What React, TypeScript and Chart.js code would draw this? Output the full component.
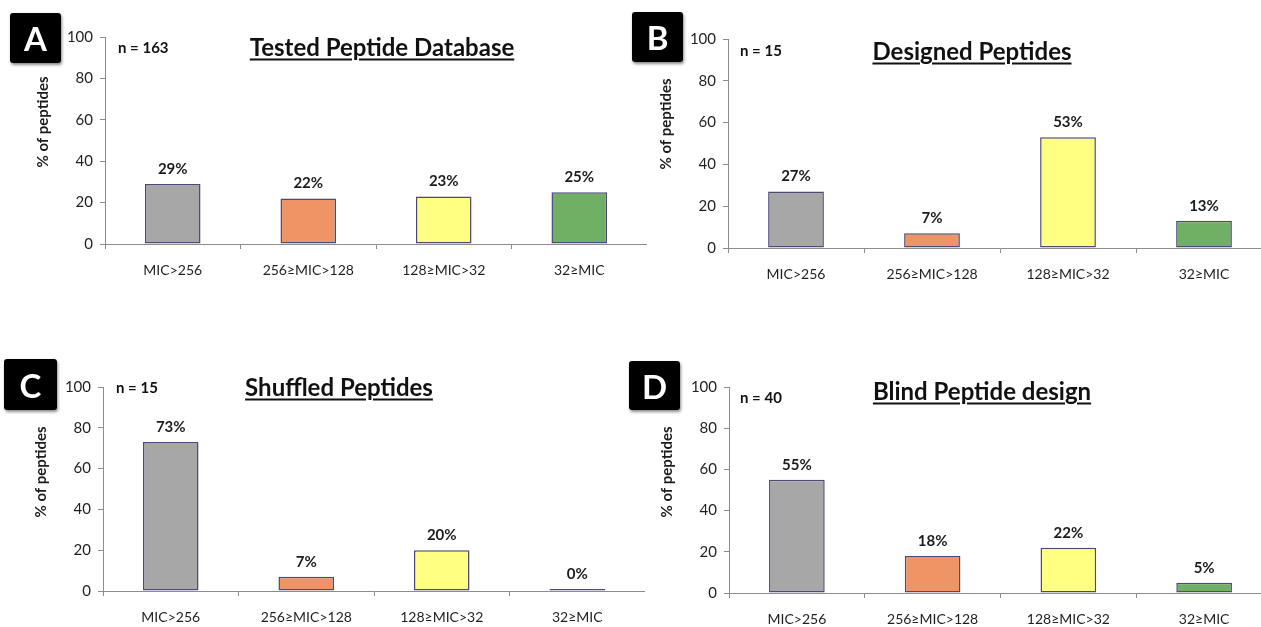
import React, { useEffect, useRef } from "react";
import { Chart, registerables } from "chart.js";

Chart.register(...registerables);
Chart.defaults.font.family = "Lato, 'Open Sans', sans-serif";

// MIC classes shared by every panel
const categories = ["MIC>256", "256≥MIC>128", "128≥MIC>32", "32≥MIC"];

// Share of peptides (%) in each MIC class
const testedDatabase = [29, 22, 23, 25];
const designedPeptides = [27, 7, 53, 13];
const shuffledPeptides = [73, 7, 20, 0];
const blindDesign = [55, 18, 22, 5];

const yMin = 0;
const yMax = 100;
const yStep = 20;

const barColors = ["#a7a7a7", "#ef9465", "#ffff82", "#70b064"];
const barBorder = "#4c4a78";

type PanelProps = {
  letter: string;
  count: string;
  title: string;
  values: number[];
  axisX: number;
  top: number;
  bottom: number;
  right: number;
  letterBox: { x: number; y: number; w: number; h: number };
  countPos: { x: number; y: number };
  titlePos: { x: number; y: number };
  titleSize: number;
};

const Y_AXIS_W = 75;
const X_AXIS_H = 46;
const PAD_TOP = 12;

function Panel(p: PanelProps) {
  const ref = useRef<HTMLCanvasElement | null>(null);
  const left = p.axisX - Y_AXIS_W;
  const canvasTop = p.top - PAD_TOP;
  const width = p.right - left;
  const height = p.bottom - p.top + PAD_TOP + X_AXIS_H;

  useEffect(() => {
    if (!ref.current) return;
    const values = p.values;
    const annotate = {
      id: "barAnnotations",
      afterDatasetsDraw(chart: any) {
        const ctx = chart.ctx;
        const meta = chart.getDatasetMeta(0);
        ctx.save();
        ctx.fillStyle = "#1c1c1c";
        ctx.textAlign = "center";
        ctx.textBaseline = "middle";
        ctx.font = "bold 15px Lato, sans-serif";
        meta.data.forEach((bar: any, i: number) => {
          ctx.fillText(values[i] + "%", bar.x, bar.y - 15);
        });
        const area = chart.chartArea;
        ctx.translate(area.left - 62, area.top + 85);
        ctx.rotate(-Math.PI / 2);
        ctx.font = "bold 15px Lato, sans-serif";
        ctx.fillText("% of peptides", 0, 0);
        ctx.restore();
      },
    };
    const chart = new Chart(ref.current, {
      type: "bar",
      data: {
        labels: categories,
        datasets: [
          {
            data: values,
            backgroundColor: barColors,
            borderColor: barBorder,
            borderWidth: 1.5,
            borderSkipped: false,
            minBarLength: 2,
            barPercentage: 0.41,
            categoryPercentage: 1,
          },
        ],
      },
      options: {
        responsive: false,
        animation: false,
        devicePixelRatio: 1,
        layout: { padding: { top: PAD_TOP, left: 0, right: 0, bottom: 0 } },
        plugins: {
          legend: { display: false },
          tooltip: { enabled: false },
          title: { display: false },
        },
        scales: {
          x: {
            grid: {
              offset: true,
              drawOnChartArea: false,
              drawTicks: true,
              tickLength: 5,
              color: "#8c8c8c",
            },
            border: { color: "#8c8c8c", width: 1 },
            ticks: {
              font: { size: 14 },
              color: "#1f1f1f",
              padding: 13,
              maxRotation: 0,
              autoSkip: false,
            },
            afterFit(scale: any) {
              scale.height = X_AXIS_H;
            },
          },
          y: {
            min: yMin,
            max: yMax,
            grid: {
              drawOnChartArea: false,
              drawTicks: true,
              tickLength: 5,
              color: "#8c8c8c",
            },
            border: { color: "#8c8c8c", width: 1 },
            ticks: {
              stepSize: yStep,
              font: { size: 15 },
              color: "#1f1f1f",
              padding: 7,
            },
            afterFit(scale: any) {
              scale.width = Y_AXIS_W;
            },
          },
        },
      },
      plugins: [annotate],
    });
    return () => chart.destroy();
  }, []);

  return (
    <>
      <canvas
        ref={ref}
        width={width}
        height={height}
        style={{ position: "absolute", left, top: canvasTop, width, height }}
      />
      <div
        style={{
          position: "absolute",
          left: p.letterBox.x,
          top: p.letterBox.y,
          width: p.letterBox.w,
          height: p.letterBox.h,
          background: "#000",
          color: "#fff",
          borderRadius: 3,
          boxShadow: "1px 2px 3px rgba(0,0,0,0.45)",
          display: "flex",
          alignItems: "center",
          justifyContent: "center",
          font: "bold 33px Lato, sans-serif",
        }}
      >
        {p.letter}
      </div>
      <div
        style={{
          position: "absolute",
          left: p.countPos.x,
          top: p.countPos.y,
          transform: "translateY(-50%)",
          font: "bold 15px Lato, sans-serif",
          color: "#111",
          whiteSpace: "nowrap",
        }}
      >
        {p.count}
      </div>
      <div
        style={{
          position: "absolute",
          left: p.titlePos.x,
          top: p.titlePos.y,
          transform: "translate(-50%, -50%)",
          font: `bold ${p.titleSize}px Lato, sans-serif`,
          color: "#111",
          textDecoration: "underline",
          textDecorationThickness: "2px",
          textUnderlineOffset: "3px",
          whiteSpace: "nowrap",
        }}
      >
        {p.title}
      </div>
    </>
  );
}

export default function App() {
  return (
    <div
      style={{
        position: "fixed",
        left: 0,
        top: 0,
        width: 1261,
        height: 627,
        overflow: "hidden",
        background: "#fff",
      }}
    >
      <Panel
        letter="A"
        count="n = 163"
        title="Tested Peptide Database"
        values={testedDatabase}
        axisX={105}
        top={33}
        bottom={244}
        right={647}
        letterBox={{ x: 10, y: 13, w: 51, h: 50 }}
        countPos={{ x: 118, y: 47 }}
        titlePos={{ x: 382, y: 46 }}
        titleSize={24}
      />
      <Panel
        letter="B"
        count="n = 15"
        title="Designed Peptides"
        values={designedPeptides}
        axisX={728}
        top={35}
        bottom={248}
        right={1272}
        letterBox={{ x: 632, y: 12, w: 51, h: 50 }}
        countPos={{ x: 740, y: 50 }}
        titlePos={{ x: 972, y: 50 }}
        titleSize={24}
      />
      <Panel
        letter="C"
        count="n = 15"
        title="Shuffled Peptides"
        values={shuffledPeptides}
        axisX={103}
        top={383}
        bottom={591}
        right={645}
        letterBox={{ x: 4, y: 359, w: 53, h: 51 }}
        countPos={{ x: 116, y: 387 }}
        titlePos={{ x: 339, y: 386 }}
        titleSize={24}
      />
      <Panel
        letter="D"
        count="n = 40"
        title="Blind Peptide design"
        values={blindDesign}
        axisX={729}
        top={383}
        bottom={593}
        right={1272}
        letterBox={{ x: 629, y: 361, w: 51, h: 49 }}
        countPos={{ x: 740, y: 397 }}
        titlePos={{ x: 982, y: 390 }}
        titleSize={24}
      />
    </div>
  );
}
